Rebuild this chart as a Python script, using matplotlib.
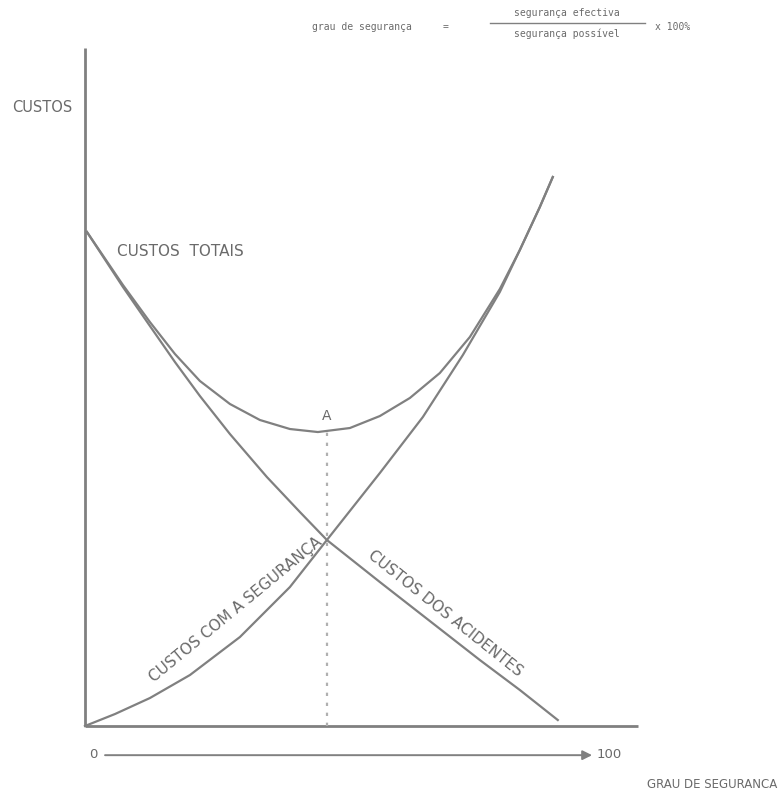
import numpy as np
import matplotlib
matplotlib.use('Agg')
import matplotlib.pyplot as plt

# grau de segurança (0-100) e custos (unidades arbitrárias)
seg_x = [0, 5.83, 12.62, 20.39, 30.10, 39.81, 46.99, 57.28, 65.63, 73.40,
         80.58, 84.47, 88.35, 90.87]
seg_y = [0, 2.18, 5.09, 9.27, 16.18, 25.27, 33.82, 46.0, 56.18, 67.45,
         78.91, 86.55, 94.36, 99.82]

acid_x = [0.39, 7.38, 12.62, 17.48, 22.33, 28.16, 35.34, 41.75, 46.99, 57.28,
          66.99, 76.70, 84.47, 91.84]
acid_y = [89.82, 79.82, 72.73, 66.18, 60.0, 53.09, 45.27, 38.91, 33.82, 26.18,
          19.09, 12.0, 6.55, 1.09]

tot_x = [0.39, 7.38, 12.62, 17.48, 22.33, 28.16, 33.98, 39.81, 45.24, 51.46,
         57.28, 63.11, 68.93, 74.76, 80.58, 84.47, 88.35, 90.87]
tot_y = [89.82, 80.18, 73.45, 67.64, 62.73, 58.55, 55.64, 54.0, 53.45, 54.18,
         56.36, 59.64, 64.18, 70.73, 79.45, 86.55, 94.36, 99.82]

x_otimo = 47.0
y_minimo = 53.5

cor = '#808080'
cor_txt = '#6a6a6a'

fig = plt.figure(figsize=(7.8, 8.0), dpi=100)
ax = fig.add_axes([0, 0, 1, 1])
ax.set_xlim(-16.5, 135.0)
ax.set_ylim(-13.45, 132.0)
ax.axis('off')

# eixos
ax.plot([0, 0], [0, 123.3], color=cor, lw=2.0, solid_capstyle='butt')
ax.plot([0, 107.4], [0, 0], color=cor, lw=2.0, solid_capstyle='butt')

# curvas
for xs, ys in [(seg_x, seg_y), (acid_x, acid_y), (tot_x, tot_y)]:
    ax.plot(xs, ys, color=cor, lw=1.6, solid_joinstyle='round')

# linha pontilhada do ponto A
ax.vlines(x_otimo, 0, y_minimo, colors='#b0b0b0', linestyles=(0, (1.5, 3)), lw=1.6)

# seta do grau de segurança
ax.annotate('', xy=(98.5, -5.3), xytext=(3.9, -5.3),
            arrowprops=dict(arrowstyle='-|>', color=cor, lw=1.4,
                            mutation_scale=14, shrinkA=0, shrinkB=0))

def ft(x, y, s, **kw):
    kw.setdefault('color', cor_txt)
    kw.setdefault('fontsize', 10.5)
    kw.setdefault('va', 'center')
    fig.text(x / 780, 1 - y / 800, s, **kw)

ft(12, 108, 'CUSTOS')
ft(117, 252, 'CUSTOS  TOTAIS', fontsize=11)
ft(327, 416, 'A', ha='center', fontsize=10)
ft(235, 608, 'CUSTOS COM A SEGURANÇA', ha='center', va='center_baseline',
   rotation=39.5, rotation_mode='anchor', fontsize=11)
ft(446, 612, 'CUSTOS DOS ACIDENTES', ha='center', va='center_baseline',
   rotation=-38.5, rotation_mode='anchor', fontsize=11)
ft(93, 755, '0', ha='center', fontsize=9.5)
ft(597, 755, '100', ha='left', fontsize=9.5)
ft(777, 784, 'GRAU DE SEGURANCA', ha='right', fontsize=8.5)

mono = 'DejaVu Sans Mono'
ft(312, 27, 'grau de segurança', family=mono, fontsize=7)
ft(446, 27, '=', ha='center', family=mono, fontsize=7)
ft(567, 13, 'segurança efectiva', ha='center', family=mono, fontsize=7)
ft(567, 34, 'segurança possível', ha='center', family=mono, fontsize=7)
ft(655, 27, 'x 100%', family=mono, fontsize=7)
fig.add_artist(plt.Line2D([490 / 780, 645 / 780], [1 - 23 / 800, 1 - 23 / 800],
                          color=cor, lw=1.0))

fig.savefig('out.png', dpi=100)
